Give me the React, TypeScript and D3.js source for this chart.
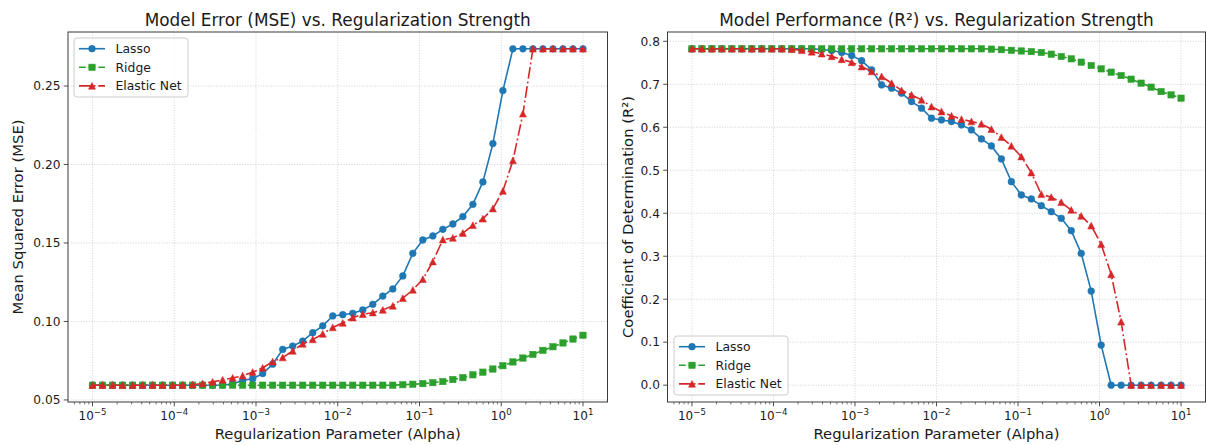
import React from "react";
import * as d3 from "d3";

// Regularization parameter values (alpha), 50 points from 1e-5 to 1e1
const alphas = [
  1.0e-5, 1.3257e-5, 1.7575e-5, 2.33e-5, 3.0888e-5, 4.0949e-5, 5.4287e-5, 7.1969e-5, 9.541e-5,
  1.2649e-4, 1.6768e-4, 2.223e-4, 2.9471e-4, 3.9069e-4, 5.1795e-4, 6.8665e-4, 9.103e-4,
  1.2068e-3, 1.5999e-3, 2.121e-3, 2.8118e-3, 3.7276e-3, 4.9417e-3, 6.5513e-3, 8.6851e-3,
  1.1514e-2, 1.5264e-2, 2.0236e-2, 2.6827e-2, 3.5565e-2, 4.7149e-2, 6.2506e-2, 8.2864e-2,
  0.10985, 0.14563, 0.19307, 0.25595, 0.33932, 0.44984, 0.59636, 0.7906,
  1.0481, 1.3895, 1.8421, 2.4421, 3.2375, 4.2919, 5.6899, 7.5431, 10.0,
];

const seriesNames = ["Lasso", "Ridge", "Elastic Net"];

const lassoMse = [
  0.0594, 0.0594, 0.0594, 0.0594, 0.0594, 0.0594, 0.0594, 0.0594, 0.0594, 0.0594,
  0.0594, 0.0594, 0.0594, 0.0595, 0.0602, 0.0625, 0.0635, 0.0668, 0.0728, 0.0822,
  0.0843, 0.0875, 0.0928, 0.0972, 0.1035, 0.1043, 0.1052, 0.1073, 0.1109, 0.1162,
  0.1207, 0.129, 0.1434, 0.1519, 0.1545, 0.1587, 0.1621, 0.1668, 0.1746, 0.1889,
  0.2133, 0.2471, 0.2737, 0.2737, 0.2737, 0.2737, 0.2737, 0.2737, 0.2737, 0.2737,
];
const ridgeMse = [
  0.0594, 0.0594, 0.0594, 0.0594, 0.0594, 0.0594, 0.0594, 0.0594, 0.0594, 0.0594,
  0.0594, 0.0594, 0.0594, 0.0594, 0.0594, 0.0594, 0.0594, 0.0594, 0.0594, 0.0594,
  0.0594, 0.0594, 0.0594, 0.0594, 0.0594, 0.0594, 0.0594, 0.0594, 0.0594, 0.0594,
  0.0594, 0.0597, 0.06, 0.0604, 0.061, 0.0617, 0.063, 0.0642, 0.066, 0.0677,
  0.0697, 0.0718, 0.0742, 0.0767, 0.079, 0.0816, 0.0839, 0.0863, 0.0888, 0.0912,
];
const enetMse = [
  0.0594, 0.0594, 0.0594, 0.0594, 0.0594, 0.0594, 0.0594, 0.0594, 0.0594, 0.0594,
  0.0597, 0.0605, 0.0615, 0.0628, 0.064, 0.0654, 0.0677, 0.0704, 0.0744, 0.077,
  0.0812, 0.0857, 0.0885, 0.092, 0.0962, 0.099, 0.1024, 0.1046, 0.1056, 0.1073,
  0.1099, 0.1148, 0.1201, 0.1269, 0.1381, 0.1521, 0.1532, 0.1563, 0.1613, 0.1654,
  0.1719, 0.1831, 0.2025, 0.2323, 0.2737, 0.2737, 0.2737, 0.2737, 0.2737, 0.2737,
];

const lassoR2 = [
  0.7825, 0.7825, 0.7825, 0.7825, 0.7825, 0.7825, 0.7825, 0.7825, 0.7825, 0.7825,
  0.7825, 0.7825, 0.7825, 0.781, 0.7785, 0.774, 0.767, 0.755, 0.7336, 0.6986,
  0.691, 0.6793, 0.6598, 0.6444, 0.6211, 0.6171, 0.6133, 0.6055, 0.5939, 0.5729,
  0.5566, 0.5263, 0.4735, 0.4425, 0.4332, 0.4176, 0.4036, 0.3881, 0.3594, 0.3066,
  0.2189, 0.0932, 0, 0, 0, 0, 0, 0, 0, 0,
];
const ridgeR2 = [
  0.7825, 0.7825, 0.7825, 0.7825, 0.7825, 0.7825, 0.7825, 0.7825, 0.7825, 0.7825,
  0.7825, 0.7825, 0.7825, 0.7825, 0.7825, 0.7825, 0.7825, 0.7825, 0.7825, 0.7825,
  0.7825, 0.7825, 0.7825, 0.7825, 0.7825, 0.7825, 0.7825, 0.7825, 0.7825, 0.7825,
  0.7818, 0.7805, 0.779, 0.7775, 0.776, 0.774, 0.77, 0.7646, 0.7592, 0.7515,
  0.7436, 0.7359, 0.7282, 0.7203, 0.7119, 0.7026, 0.6933, 0.683, 0.6754, 0.6677,
];
const enetR2 = [
  0.7825, 0.7825, 0.7825, 0.7825, 0.7825, 0.7825, 0.7825, 0.7825, 0.7825, 0.7825,
  0.7815, 0.779, 0.7755, 0.771, 0.765, 0.758, 0.751, 0.741, 0.7296, 0.718,
  0.7026, 0.6854, 0.6754, 0.6637, 0.648, 0.6365, 0.6265, 0.6187, 0.6133, 0.6078,
  0.5954, 0.5768, 0.5566, 0.5317, 0.4944, 0.4441, 0.4371, 0.4254, 0.4075, 0.3936,
  0.371, 0.3277, 0.2578, 0.1474, 0, 0, 0, 0, 0, 0,
];

const xTickExponents = [-5, -4, -3, -2, -1, 0, 1];
const mseTicks = [0.05, 0.1, 0.15, 0.2, 0.25];
const r2Ticks = [0, 0.1, 0.2, 0.3, 0.4, 0.5, 0.6, 0.7, 0.8];

const COLORS = ["#1f77b4", "#2ca02c", "#d62728"];
const DASHES = ["none", "6.8,2.9", "11.7,2.9,1.8,2.9"];
const MARKERS = ["circle", "square", "triangle"];
const FONT = "DejaVu Sans, sans-serif";
const TXT = "#1a1a1a";

function Marker({ kind, x, y, color }: { kind: string; x: number; y: number; color: string }) {
  if (kind === "circle") return <circle cx={x} cy={y} r={3.4} fill={color} stroke={color} strokeWidth={0.5} />;
  if (kind === "square")
    return <rect x={x - 3.2} y={y - 3.2} width={6.4} height={6.4} fill={color} stroke={color} strokeWidth={0.5} />;
  return (
    <path
      d={`M${x},${y - 3.5}L${x + 3.5},${y + 3.3}L${x - 3.5},${y + 3.3}Z`}
      fill={color}
      stroke={color}
      strokeWidth={0.5}
    />
  );
}

type PanelProps = {
  left: number;
  top: number;
  width: number;
  height: number;
  data: number[][];
  yTicks: number[];
  yDigits: number;
  title: React.ReactNode;
  ylabel: React.ReactNode;
  ylabelX: number;
  legendX: number;
  legendY: number;
};

function Panel(p: PanelProps) {
  const x = d3
    .scaleLog()
    .domain([Math.pow(10, -5.3), Math.pow(10, 1.3)])
    .range([p.left, p.left + p.width]);
  const all = p.data.flat();
  const lo = d3.min(all) as number;
  const hi = d3.max(all) as number;
  const pad = (hi - lo) * 0.05;
  const y = d3
    .scaleLinear()
    .domain([lo - pad, hi + pad])
    .range([p.top + p.height, p.top]);
  const bottom = p.top + p.height;
  const right = p.left + p.width;

  const minor: number[] = [];
  for (let e = -6; e <= 1; e++) {
    for (let k = 2; k <= 9; k++) {
      const v = k * Math.pow(10, e);
      const px = x(v);
      if (px >= p.left && px <= right) minor.push(v);
    }
  }

  const line = d3
    .line<number>()
    .x((_, i) => x(alphas[i]))
    .y((d) => y(d));

  return (
    <g fontFamily={FONT}>
      {/* grid */}
      {xTickExponents.map((e) => (
        <line
          key={"gx" + e}
          x1={x(Math.pow(10, e))}
          x2={x(Math.pow(10, e))}
          y1={p.top}
          y2={bottom}
          stroke="#b0b0b0"
          strokeOpacity={0.7}
          strokeWidth={0.8}
          strokeDasharray="1,1.6"
        />
      ))}
      {p.yTicks.map((t) => (
        <line
          key={"gy" + t}
          x1={p.left}
          x2={right}
          y1={y(t)}
          y2={y(t)}
          stroke="#b0b0b0"
          strokeOpacity={0.7}
          strokeWidth={0.8}
          strokeDasharray="1,1.6"
        />
      ))}
      {/* series */}
      {p.data.map((vals, si) => (
        <g key={"s" + si}>
          <path
            d={line(vals) || ""}
            fill="none"
            stroke={COLORS[si]}
            strokeWidth={1.6}
            strokeDasharray={DASHES[si]}
          />
          {vals.map((v, i) => (
            <Marker key={i} kind={MARKERS[si]} x={x(alphas[i])} y={y(v)} color={COLORS[si]} />
          ))}
        </g>
      ))}
      {/* spines */}
      <rect x={p.left} y={p.top} width={p.width} height={p.height} fill="none" stroke="#3a3a3a" strokeWidth={1} />
      {/* x ticks */}
      {minor.map((v) => (
        <line key={"mn" + v} x1={x(v)} x2={x(v)} y1={bottom} y2={bottom + 2.4} stroke="#3a3a3a" strokeWidth={0.7} />
      ))}
      {xTickExponents.map((e) => {
        const px = x(Math.pow(10, e));
        return (
          <g key={"xt" + e}>
            <line x1={px} x2={px} y1={bottom} y2={bottom + 4.3} stroke="#3a3a3a" strokeWidth={0.9} />
            <text x={px} y={bottom + 18} textAnchor="middle" fontSize={12} fill={TXT}>
              10
              <tspan fontSize={8.6} dy={-5.2}>
                {e < 0 ? "\u2212" + Math.abs(e) : String(e)}
              </tspan>
            </text>
          </g>
        );
      })}
      {/* y ticks */}
      {p.yTicks.map((t) => (
        <g key={"yt" + t}>
          <line x1={p.left - 4.3} x2={p.left} y1={y(t)} y2={y(t)} stroke="#3a3a3a" strokeWidth={0.9} />
          <text x={p.left - 7.5} y={y(t) + 4.3} textAnchor="end" fontSize={12.2} fill={TXT}>
            {t.toFixed(p.yDigits)}
          </text>
        </g>
      ))}
      {/* title */}
      <text x={(p.left + right) / 2} y={26} textAnchor="middle" fontSize={16.9} fill={TXT}>
        {p.title}
      </text>
      {/* x label */}
      <text x={(p.left + right) / 2} y={439} textAnchor="middle" fontSize={14.8} fill={TXT}>
        Regularization Parameter (Alpha)
      </text>
      {/* y label */}
      <text
        transform={`translate(${p.ylabelX},${(p.top + bottom) / 2}) rotate(-90)`}
        textAnchor="middle"
        fontSize={14.8}
        fill={TXT}
      >
        {p.ylabel}
      </text>
      {/* legend */}
      <g transform={`translate(${p.legendX},${p.legendY})`}>
        <rect x={0} y={0} width={114} height={59} rx={3} fill="#ffffff" fillOpacity={0.8} stroke="#cccccc" strokeWidth={1} />
        {seriesNames.map((name, si) => {
          const cy = 10.7 + si * 18.6;
          return (
            <g key={name}>
              <line x1={5} x2={31} y1={cy} y2={cy} stroke={COLORS[si]} strokeWidth={1.6} strokeDasharray={DASHES[si]} />
              <Marker kind={MARKERS[si]} x={18} y={cy} color={COLORS[si]} />
              <text x={41.5} y={cy + 4.4} fontSize={12.4} fill={TXT}>
                {name}
              </text>
            </g>
          );
        })}
      </g>
    </g>
  );
}

export default function App() {
  return (
    <svg
      width={1206}
      height={445}
      viewBox="0 0 1206 445"
      style={{ position: "absolute", left: 0, top: 0, background: "#ffffff" }}
    >
      <rect x={0} y={0} width={1206} height={445} fill="#ffffff" />
      <Panel
        left={68}
        top={32}
        width={539.5}
        height={370}
        data={[lassoMse, ridgeMse, enetMse]}
        yTicks={mseTicks}
        yDigits={2}
        title="Model Error (MSE) vs. Regularization Strength"
        ylabel="Mean Squared Error (MSE)"
        ylabelX={23}
        legendX={74}
        legendY={38}
      />
      <Panel
        left={667.5}
        top={32}
        width={538}
        height={370}
        data={[lassoR2, ridgeR2, enetR2]}
        yTicks={r2Ticks}
        yDigits={1}
        title="Model Performance (R²) vs. Regularization Strength"
        ylabel="Coefficient of Determination (R²)"
        ylabelX={633}
        legendX={674}
        legendY={336}
      />
    </svg>
  );
}
